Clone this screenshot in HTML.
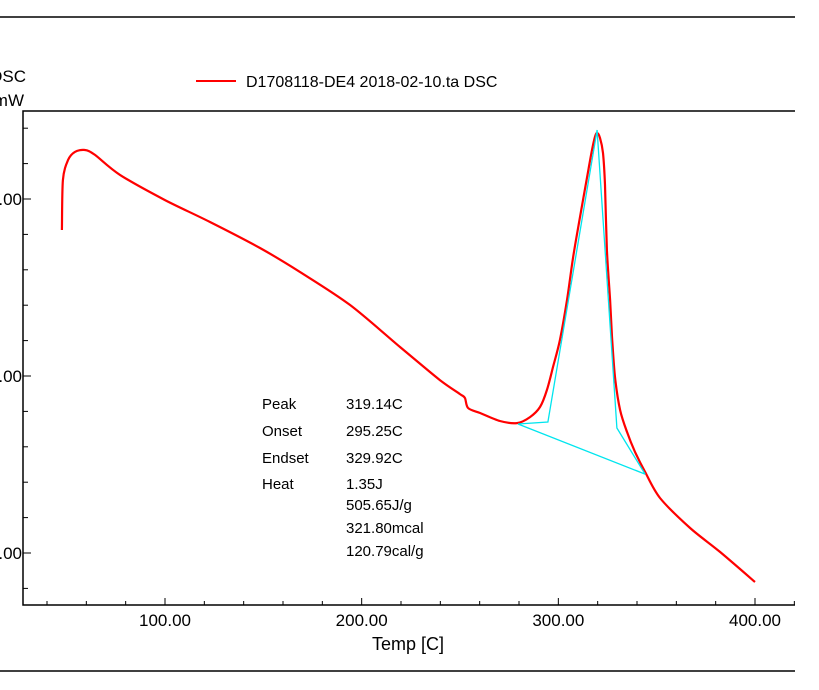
<!DOCTYPE html>
<html><head><meta charset="utf-8"><style>
body{margin:0;background:#fff;overflow:hidden}
svg{display:block;font-family:"Liberation Sans",Arial,sans-serif}
</style></head><body>
<svg id="c" width="819" height="690" viewBox="0 0 819 690">
<line x1="0" y1="17" x2="795" y2="17" stroke="#000" stroke-width="1.5"/>
<line x1="0" y1="671" x2="795" y2="671" stroke="#000" stroke-width="1.5"/>
<text x="26" y="82" font-size="17" text-anchor="end">DSC</text>
<text x="24" y="106" font-size="17" text-anchor="end">mW</text>
<g>
<line x1="196" y1="81" x2="236" y2="81" stroke="#f00" stroke-width="2"/>
<text x="246" y="87" font-size="16">D1708118-DE4 2018-02-10.ta  DSC</text>
</g>
<g id="axes"></g>
<g id="marks"></g>
<g font-size="15">
<text x="262" y="409">Peak</text><text x="346" y="409">319.14C</text>
<text x="262" y="436">Onset</text><text x="346" y="436">295.25C</text>
<text x="262" y="463">Endset</text><text x="346" y="463">329.92C</text>
<text x="262" y="489">Heat</text><text x="346" y="489">1.35J</text>
<text x="346" y="510">505.65J/g</text>
<text x="346" y="533">321.80mcal</text>
<text x="346" y="556">120.79cal/g</text>
</g>
</svg>
<script>
const temps=[47.6,48.1,50.7,54.2,59.3,64.4,77.1,100,122.9,148.3,168.6,194.1,219.5,239.8,250.0,252.5,254.1,260.2,270.3,279.0,285.6,290.7,294.2,297.3,300.8,304.4,307.5,311.0,314.6,317.1,318.6,319.7,321.2,322.7,323.7,324.7,326.3,327.3,328.8,331.4,334.9,339.0,344.1,351.7,367.0,382.2,400.0];
const dscValues=[8.25,11.07,12.20,12.66,12.77,12.49,11.36,9.94,8.70,7.23,5.88,4.01,1.64,-0.23,-1.02,-1.24,-1.81,-2.09,-2.54,-2.66,-2.32,-1.75,-0.79,0.51,2.03,4.29,6.70,8.98,11.24,12.77,13.50,13.73,13.45,12.60,10.79,7.12,4.29,2.20,-0.06,-1.92,-3.16,-4.29,-5.42,-6.89,-8.59,-9.94,-11.64];
const tangentT=[279.5,294.7,319.7,329.8,344.1];
const tangentV=[-2.71,-2.60,13.9,-2.94,-5.54];
const baseT=[279.5,344.1];
const baseV=[-2.71,-5.54];
const xTicks=[100,200,300,400];
const xTickLabels=["100.00","200.00","300.00","400.00"];
const yTicks=[10,0,-10];
const yTickLabels=["10.00","0.00","-10.00"];
const X=t=>165+(t-100)*1.9667;
const Y=v=>376-v*17.7;
const NS="http://www.w3.org/2000/svg";
const ax=document.getElementById('axes'),mk=document.getElementById('marks');
function el(tag,attrs,parent){const e=document.createElementNS(NS,tag);for(const k in attrs)e.setAttribute(k,attrs[k]);parent.appendChild(e);return e;}
const frame=el('path',{d:'M795 111 H23 V605 H795',fill:'none',stroke:'#000','stroke-width':1.5},ax);


for(let t=40;t<=420;t+=20){const major=t%100===0;const l=el('line',{x1:X(t),x2:X(t),y1:605,y2:major?598:601,stroke:'#000'},ax);

}
xTicks.forEach((t,i)=>{const tx=el('text',{x:X(t),y:626,'font-size':17,'text-anchor':'middle'},ax);tx.textContent=xTickLabels[i];

});
for(let v=14;v>=-12;v-=2){const major=v%10===0;const l=el('line',{x1:23,x2:major?31:28,y1:Y(v),y2:Y(v),stroke:'#000'},ax);

}
yTicks.forEach((v,i)=>{const tx=el('text',{x:22,y:Y(v)+6,'font-size':17,'text-anchor':'end'},ax);tx.textContent=yTickLabels[i];

});
const xt=el('text',{x:408,y:650,'font-size':18,'text-anchor':'middle'},ax);xt.textContent='Temp  [C]';


const pts=(a,b)=>a.map((t,i)=>X(t).toFixed(1)+','+Y(b[i]).toFixed(1)).join(' ');
function smooth(a,b){const p=a.map((t,i)=>[X(t),Y(b[i])]);let d='M'+p[0][0].toFixed(1)+' '+p[0][1].toFixed(1);
for(let i=0;i<p.length-1;i++){const p0=p[i-1]||p[i],p1=p[i],p2=p[i+1],p3=p[i+2]||p2;const k=0.15;
d+=' C'+(p1[0]+(p2[0]-p0[0])*k).toFixed(1)+' '+(p1[1]+(p2[1]-p0[1])*k).toFixed(1)+' '+(p2[0]-(p3[0]-p1[0])*k).toFixed(1)+' '+(p2[1]-(p3[1]-p1[1])*k).toFixed(1)+' '+p2[0].toFixed(1)+' '+p2[1].toFixed(1);}
return d;}
const bl=el('polyline',{points:pts(baseT,baseV),fill:'none',stroke:'#00e5ee','stroke-width':1.3},mk);


const curve=el('path',{d:smooth(temps,dscValues),fill:'none',stroke:'#f00','stroke-width':2.2,'stroke-linejoin':'round'},mk);


const tg=el('polyline',{points:pts(tangentT,tangentV),fill:'none',stroke:'#00e5ee','stroke-width':1.3},mk);


</script>
</body></html>
